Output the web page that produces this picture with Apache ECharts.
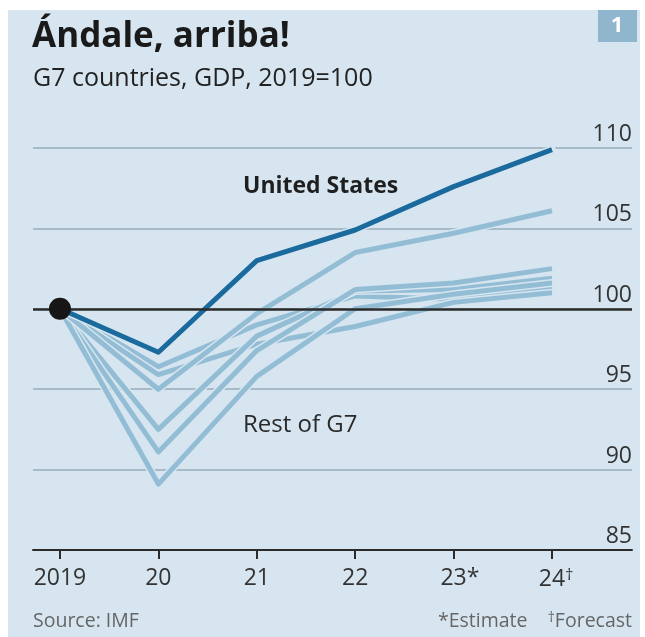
<!DOCTYPE html>
<html>
<head>
<meta charset="utf-8">
<script src="https://cdn.jsdelivr.net/npm/echarts@6/dist/echarts.min.js"></script>
<style>
  html, body { margin: 0; padding: 0; background: #ffffff; }
  #chart { width: 645px; height: 637px; }
</style>
</head>
<body>
<div id="chart"></div>
<script>
// Real GDP, index 2019 = 100 (IMF)
const years = [2019, 2020, 2021, 2022, 2023, 2024];
const yearLabels = ['2019', '20', '21', '22', '23', '24'];
const yearNotes = ['', '', '', '', '*', '\u2020'];
const unitedStates = [100, 97.3, 103.0, 104.9, 107.6, 109.9];
const canada = [100, 95.0, 99.7, 103.5, 104.7, 106.1];
const germany = [100, 96.4, 99.0, 100.8, 100.6, 101.3];
const japan = [100, 95.9, 97.8, 98.9, 100.4, 101.0];
const france = [100, 92.5, 98.3, 101.1, 101.2, 101.9];
const italy = [100, 91.1, 97.4, 101.2, 101.6, 102.5];
const unitedKingdom = [100, 89.1, 95.8, 100.0, 100.9, 101.6];
const yTicks = [85, 90, 95, 100, 105, 110];

const BG = '#d6e5ef';
const LIGHT = '#92bdd5';
const DARK = '#1a6a9e';
const FONT = '"Open Sans", Roboto, sans-serif';

const restOfG7 = [germany, japan, france, italy, unitedKingdom, canada];

function pairs(values) {
  return years.map((y, i) => [y, values[i]]);
}

// each line gets a thin halo in the background colour drawn just beneath it
function lineWithHalo(name, values, color) {
  return [
    {
      name: name + ' halo', type: 'line', data: pairs(values), symbol: 'none',
      silent: true, lineStyle: { color: BG, width: 8, cap: 'round', join: 'round' }
    },
    {
      name: name, type: 'line', data: pairs(values), symbol: 'none',
      lineStyle: { color: color, width: 5, cap: 'butt', join: 'round' }
    }
  ];
}

const series = [
  {
    name: 'baseline', type: 'line', data: [], silent: true,
    markLine: {
      silent: true, symbol: 'none', label: { show: false },
      lineStyle: { color: '#2b2b2b', width: 2.5, type: 'solid' },
      data: [{ yAxis: 100 }]
    }
  }
];
restOfG7.forEach((vals, i) => series.push(...lineWithHalo('g7-' + i, vals, LIGHT)));
series.push(...lineWithHalo('United States', unitedStates, DARK));
series.push({
  name: 'base year', type: 'scatter', data: [[years[0], unitedStates[0]]],
  symbolSize: 22, itemStyle: { color: '#161616', opacity: 1 }, z: 5
});

const chart = echarts.init(document.getElementById('chart'), null, { renderer: 'canvas' });

chart.setOption({
  backgroundColor: '#ffffff',
  animation: false,
  textStyle: { fontFamily: FONT },
  grid: { left: 33, right: 13, top: 148, bottom: 87, containLabel: false },
  xAxis: {
    type: 'value',
    min: 2018.726,
    max: 2024.813,
    splitLine: { show: false },
    axisLine: { show: true, onZero: false, lineStyle: { color: '#2b2b2b', width: 2 } },
    axisTick: {
      show: true, customValues: years, length: 9, inside: false,
      lineStyle: { color: '#2b2b2b', width: 2 }
    },
    axisLabel: {
      customValues: years,
      margin: 17,
      formatter: function (v) {
        const i = years.indexOf(Math.round(v));
        if (i < 0) return '';
        const note = yearNotes[i];
        if (!note) return '{n|' + yearLabels[i] + '}';
        const key = note === '*' ? 's' : 'd';
        // invisible copy of the note on the left keeps the number centred on its tick
        return '{' + key + 'p|' + note + '}{n|' + yearLabels[i] + '}{' + key + '|' + note + '}';
      },
      rich: {
        n: { fontSize: 23, color: '#333333', fontFamily: FONT },
        s: { fontSize: 23, color: '#333333', fontFamily: FONT },
        sp: { fontSize: 23, color: 'rgba(0,0,0,0)', fontFamily: FONT },
        d: { fontSize: 16, color: '#333333', fontFamily: FONT, verticalAlign: 'top', padding: [0, 0, 8, 0] },
        dp: { fontSize: 16, color: 'rgba(0,0,0,0)', fontFamily: FONT, verticalAlign: 'top', padding: [0, 0, 8, 0] }
      }
    }
  },
  yAxis: {
    type: 'value',
    position: 'right',
    min: 85,
    max: 110,
    interval: 5,
    axisLine: { show: false },
    axisTick: { show: false },
    splitLine: { show: true, lineStyle: { color: '#a7bac7', width: 2 } },
    axisLabel: {
      inside: true,
      margin: 0,
      verticalAlign: 'bottom',
      padding: [0, 0, 2, 0],
      fontSize: 23,
      color: '#333333',
      fontFamily: FONT,
      formatter: function (v) { return yTicks.indexOf(v) >= 0 ? String(v) : ''; }
    }
  },
  graphic: [
    { type: 'rect', z: -100, silent: true, shape: { x: 8, y: 10, width: 632, height: 627 }, style: { fill: BG } },
    { type: 'rect', z: 10, silent: true, shape: { x: 598, y: 10, width: 39, height: 32 }, style: { fill: '#8fb6cd' } },
    { type: 'text', z: 11, silent: true, x: 617, y: 26, style: { text: '1', fill: '#ffffff', font: 'bold 22px ' + FONT, align: 'center', verticalAlign: 'middle' } },
    { type: 'text', z: 10, silent: true, x: 32, y: 37, style: { text: '\u00c1ndale, arriba!', fill: '#1a1a1a', font: 'bold 35px ' + FONT, verticalAlign: 'middle' } },
    { type: 'text', z: 10, silent: true, x: 33, y: 79, style: { text: 'G7 countries, GDP, 2019=100', fill: '#222222', font: '25px ' + FONT, verticalAlign: 'middle' } },
    { type: 'text', z: 10, silent: true, x: 243, y: 186, style: { text: 'United States', fill: '#1f1f1f', font: 'bold 23px ' + FONT, verticalAlign: 'middle' } },
    { type: 'text', z: 10, silent: true, x: 243, y: 425, style: { text: 'Rest of G7', fill: '#2a2a2a', font: '24px ' + FONT, verticalAlign: 'middle' } },
    { type: 'text', z: 10, silent: true, x: 33, y: 621, style: { text: 'Source: IMF', fill: '#666666', font: '19.5px ' + FONT, verticalAlign: 'middle' } },
    {
      type: 'text', z: 10, silent: true, x: 632, y: 621,
      style: {
        text: '{t|*Estimate    }{d|\u2020}{t|Forecast}',
        align: 'right', verticalAlign: 'middle',
        rich: {
          t: { fontSize: 19.5, fill: '#666666', fontFamily: FONT },
          d: { fontSize: 14, fill: '#666666', fontFamily: FONT, verticalAlign: 'top' }
        }
      }
    }
  ],
  series: series
});
</script>
</body>
</html>
